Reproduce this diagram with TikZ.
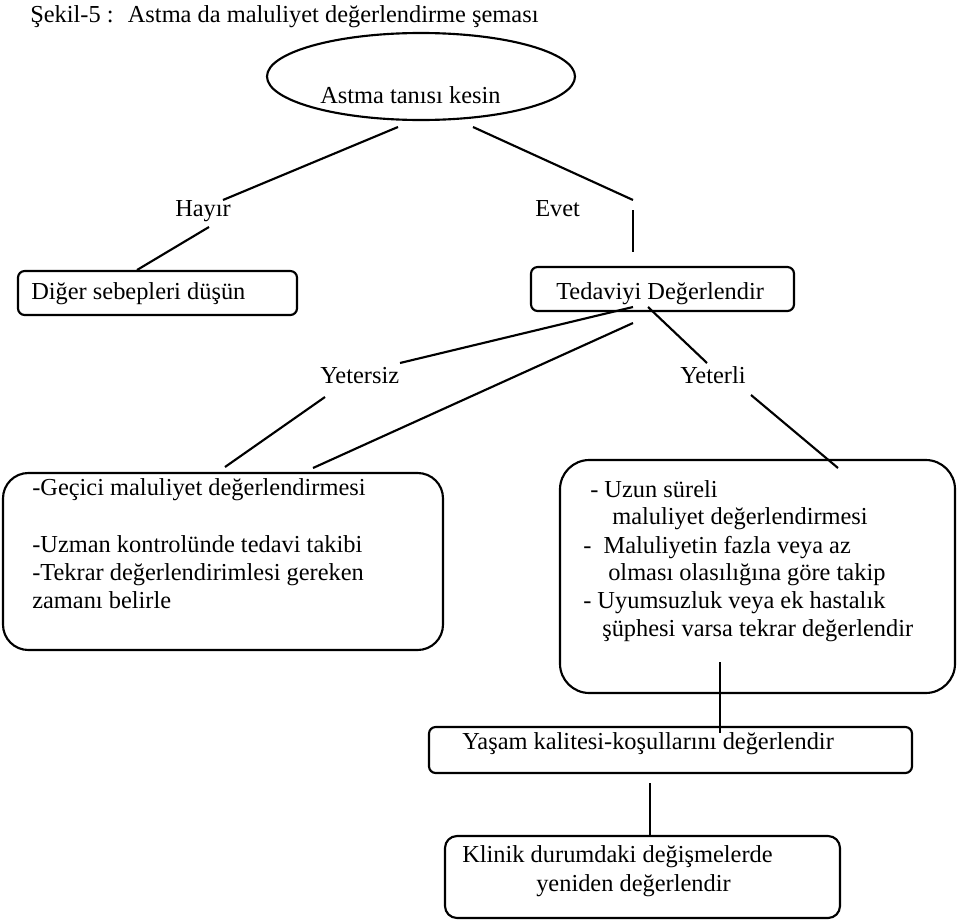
\documentclass[tikz,border=0pt]{standalone}
\usepackage{fontspec}
\setmainfont{Liberation Serif}
\usetikzlibrary{shapes.geometric}
\tikzset{
  kutu/.style={draw,line width=1.6pt,rounded corners=5pt,inner sep=0pt},
  metin/.style={anchor=base west,inner sep=0pt,font=\fontsize{18.3}{21.4}\selectfont},
  baglanti/.style={line width=1.6pt},
}
\begin{document}
\begin{tikzpicture}[x=0.75pt,y=-0.75pt]
 \useasboundingbox (0,0) rectangle (960,921);
 % baslik
 \node[metin] (baslik) at (30,22) {Şekil-5 :~ Astma da maluliyet değerlendirme şeması};
 % kutular
 \node[draw,ellipse,line width=1.6pt,inner sep=0pt,minimum width=231pt,minimum height=65.25pt] (tani) at (421,76.5) {};
 \node[kutu,minimum width=209.25pt,minimum height=33pt] (diger) at (157.5,293) {};
 \node[kutu,minimum width=197.25pt,minimum height=33pt] (tedavi) at (662.5,289) {};
 \node[kutu,rounded corners=19pt,minimum width=330pt,minimum height=132.75pt] (gecici) at (223,561.5) {};
 \node[kutu,rounded corners=22pt,minimum width=296.25pt,minimum height=174.75pt] (uzun) at (757.5,576.5) {};
 \node[kutu,minimum width=362.25pt,minimum height=34.5pt] (yasam) at (670.5,750) {};
 \node[kutu,rounded corners=9pt,minimum width=296.25pt,minimum height=61.5pt] (klinik) at (642.5,877) {};
 % metinler
 \node[metin] (tanimetin) at (320,103) {Astma tanısı kesin};
 \node[metin] (hayir) at (175,216) {Hayır};
 \node[metin] (evet) at (535,216) {Evet};
 \node[metin] (digermetin) at (31,299) {Diğer sebepleri düşün};
 \node[metin] (tedavimetin) at (556,299) {Tedaviyi Değerlendir};
 \node[metin] (yetersiz) at (320,383) {Yetersiz};
 \node[metin] (yeterli) at (680,383) {Yeterli};
 \node[metin] (gecici1) at (32,495) {-Geçici maluliyet değerlendirmesi};
 \node[metin] (gecici2) at (32,552) {-Uzman kontrolünde tedavi takibi};
 \node[metin] (gecici3) at (32,580) {-Tekrar değerlendirimlesi gereken};
 \node[metin] (gecici4) at (32,608) {zamanı belirle};
 \node[metin] (uzun1) at (590,497) {- Uzun süreli};
 \node[metin] (uzun2) at (612,524) {maluliyet değerlendirmesi};
 \node[metin] (uzun3) at (583,553) {-~ Maluliyetin fazla veya az};
 \node[metin] (uzun4) at (608,580) {olması olasılığına göre takip};
 \node[metin] (uzun5) at (583,608) {- Uyumsuzluk veya ek hastalık};
 \node[metin] (uzun6) at (602,636) {şüphesi varsa tekrar değerlendir};
 \node[metin] (yasammetin) at (462,749) {Yaşam kalitesi-koşullarını değerlendir};
 \node[metin] (klinik1) at (462,862) {Klinik durumdaki değişmelerde};
 \node[metin] (klinik2) at (536,891) {yeniden değerlendir};
 % baglanti uclari
 \coordinate (taniA) at (398,127);
 \coordinate (taniB) at (473,127);
 \coordinate (hayirA) at (223,200);
 \coordinate (hayirB) at (209,227);
 \coordinate (evetA) at (633,200);
 \coordinate (evetB) at (633,210);
 \coordinate (digerA) at (137,270);
 \coordinate (tedaviA) at (633,252);
 \coordinate (tedaviB) at (633,307);
 \coordinate (tedaviC) at (633,323);
 \coordinate (tedaviD) at (648,307);
 \coordinate (yetersizA) at (400,363);
 \coordinate (yetersizB) at (325,397);
 \coordinate (yeterliA) at (707,363);
 \coordinate (yeterliB) at (751,395);
 \coordinate (geciciA) at (313,468);
 \coordinate (geciciB) at (225,467);
 \coordinate (uzunA) at (838,468);
 \coordinate (uzunB) at (720,662);
 \coordinate (yasamA) at (720,733);
 \coordinate (yasamB) at (650,783);
 \coordinate (klinikA) at (650,836);
 % cizgiler
 \draw[baglanti] (taniA)--(hayirA);
 \draw[baglanti] (taniB)--(evetA);
 \draw[baglanti] (evetB)--(tedaviA);
 \draw[baglanti] (hayirB)--(digerA);
 \draw[baglanti] (tedaviB)--(yetersizA);
 \draw[baglanti] (tedaviC)--(geciciA);
 \draw[baglanti] (yetersizB)--(geciciB);
 \draw[baglanti] (tedaviD)--(yeterliA);
 \draw[baglanti] (yeterliB)--(uzunA);
 \draw[baglanti] (uzunB)--(yasamA);
 \draw[baglanti] (yasamB)--(klinikA);
\end{tikzpicture}
\end{document}
